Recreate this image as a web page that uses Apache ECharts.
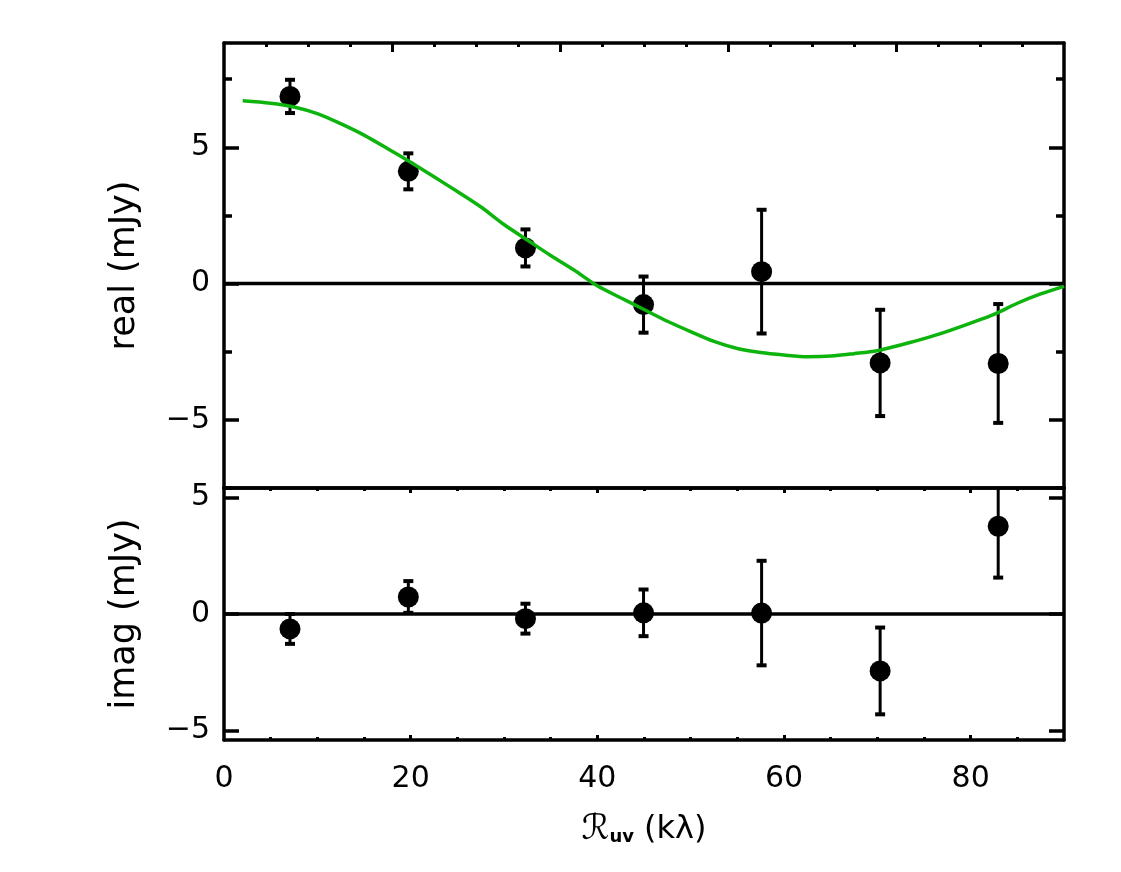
<!DOCTYPE html>
<html>
<head>
<meta charset="utf-8">
<script src="https://cdn.jsdelivr.net/npm/echarts@6/dist/echarts.min.js"></script>
<style>
html,body{margin:0;padding:0;background:#fff;}
#chart{width:1121px;height:872px;}
</style>
</head>
<body>
<div id="chart"></div>
<script>
// ---- data ----
const uvDist   = [7.07, 19.75, 32.3, 44.95, 57.6, 70.3, 82.95];
const realVal  = [6.87, 4.12, 1.31, -0.77, 0.44, -2.91, -2.93];
const realErr  = [0.61, 0.66, 0.68, 1.03, 2.27, 1.95, 2.18];
const imagVal  = [-0.64, 0.73, -0.20, 0.05, 0.04, -2.44, 3.76];
const imagErr  = [0.64, 0.68, 0.64, 1.00, 2.24, 1.86, 2.20];
const modelX    = [2, 5, 7.5, 10, 12.5, 15, 17.5, 20, 22.5, 25, 27.5, 30, 32.5, 35, 37.5, 40, 42.5, 45, 47.5, 50, 52.5, 55, 57.5, 60, 62.5, 65, 67.5, 70, 72.5, 75, 77.5, 80, 82.5, 85, 87.5, 90];
const modelReal = [6.71, 6.62, 6.48, 6.24, 5.87, 5.45, 4.96, 4.45, 3.92, 3.38, 2.82, 2.17, 1.60, 1.03, 0.50, -0.08, -0.52, -0.95, -1.38, -1.76, -2.12, -2.38, -2.53, -2.62, -2.68, -2.66, -2.57, -2.46, -2.25, -2.02, -1.75, -1.45, -1.13, -0.72, -0.38, -0.10];
const xTickLabels = [0, 20, 40, 60, 80];
const xMinorTicks = [5, 10, 15, 25, 30, 35, 45, 50, 55, 65, 70, 75, 85];
const topMajorTicks = [20, 40, 60, 80];
const topMinorTicks = [5, 10, 15, 25, 30, 35, 45, 50, 55, 65, 70, 75, 85, 90, 95];
const yTickLabels = [-5, 0, 5];
const realMinorTicks = [-7.5, -2.5, 2.5, 7.5];

const FONT = 'DejaVu Sans';
const BLACK = '#000';
const AXLINE = {show: true, onZero: false, lineStyle: {color: BLACK, width: 3.5}};
const NOLINE = {show: false, onZero: false};
const fmt = v => (v < 0 ? '\u2212' + Math.abs(v) : String(v));

function ticks(vals, len, w) {
  return {show: true, inside: true, length: len, customValues: vals, lineStyle: {color: BLACK, width: w}};
}
function base(extra) {
  return Object.assign({type: 'value', splitLine: {show: false}, axisLabel: {show: false}, axisTick: {show: false}}, extra);
}

const xAxes = [
  base({gridIndex: 0, position: 'bottom', min: 0, max: 90, axisLine: AXLINE}),
  base({gridIndex: 0, position: 'top', min: 0, max: 100, axisLine: AXLINE, axisTick: ticks(topMajorTicks, 9, 3)}),
  base({gridIndex: 0, position: 'top', min: 0, max: 100, axisLine: NOLINE, axisTick: ticks(topMinorTicks, 4, 3)}),
  base({gridIndex: 1, position: 'bottom', min: 0, max: 90, axisLine: AXLINE, axisTick: ticks(topMajorTicks, 5, 3),
        axisLabel: {show: true, customValues: xTickLabels, color: BLACK, fontFamily: FONT, fontSize: 30, margin: 24, formatter: fmt},
        name: '{a|\u211B}{b|uv}{c| (k\u03BB)}', nameLocation: 'middle', nameGap: 72,
        nameTextStyle: {color: BLACK, fontFamily: FONT, fontSize: 32,
          rich: {a: {fontFamily: FONT, fontSize: 35, fontStyle: 'italic', color: BLACK},
                 b: {fontFamily: FONT, fontSize: 18, fontWeight: 'bold', color: BLACK, padding: [16, 0, 0, 0]},
                 c: {fontFamily: FONT, fontSize: 32, color: BLACK}}}}),
  base({gridIndex: 1, position: 'bottom', min: 0, max: 90, axisLine: NOLINE, axisTick: ticks(xMinorTicks, 3, 3)}),
  base({gridIndex: 1, position: 'top', min: 0, max: 90, axisLine: AXLINE, axisTick: ticks(topMajorTicks, 5, 3)}),
  base({gridIndex: 1, position: 'top', min: 0, max: 90, axisLine: NOLINE, axisTick: ticks(xMinorTicks, 3, 3)})
];

const yAxes = [
  base({gridIndex: 0, position: 'left', min: -7.5, max: 8.83, axisLine: AXLINE, axisTick: ticks(yTickLabels, 15, 3.5),
        axisLabel: {show: true, customValues: yTickLabels, color: BLACK, fontFamily: FONT, fontSize: 30, margin: 14, formatter: fmt},
        name: 'real (mJy)', nameLocation: 'middle', nameRotate: 90, nameGap: 82,
        nameTextStyle: {color: BLACK, fontFamily: FONT, fontSize: 35}}),
  base({gridIndex: 0, position: 'left', min: -7.5, max: 8.83, axisLine: NOLINE, axisTick: ticks(realMinorTicks, 8, 3.5)}),
  base({gridIndex: 0, position: 'right', min: -7.5, max: 8.83, axisLine: AXLINE, axisTick: ticks(yTickLabels, 15, 3.5)}),
  base({gridIndex: 0, position: 'right', min: -7.5, max: 8.83, axisLine: NOLINE, axisTick: ticks(realMinorTicks, 8, 3.5)}),
  base({gridIndex: 1, position: 'left', min: -5.4, max: 5.4, axisLine: AXLINE, axisTick: ticks(yTickLabels, 15, 3.5),
        axisLabel: {show: true, customValues: yTickLabels, color: BLACK, fontFamily: FONT, fontSize: 30, margin: 14, formatter: fmt},
        name: 'imag (mJy)', nameLocation: 'middle', nameRotate: 90, nameGap: 82,
        nameTextStyle: {color: BLACK, fontFamily: FONT, fontSize: 35}}),
  base({gridIndex: 1, position: 'right', min: -5.4, max: 5.4, axisLine: AXLINE, axisTick: ticks(yTickLabels, 15, 3.5)})
];

function errRender(params, api) {
  const x = api.value(0), y = api.value(1), e = api.value(2);
  const top = api.coord([x, y + e]);
  const bot = api.coord([x, y - e]);
  const cs = params.coordSys;
  const yMin = cs.y, yMax = cs.y + cs.height;
  const cx = top[0];
  let t = top[1], b = bot[1];
  const clipT = t < yMin, clipB = b > yMax;
  t = Math.max(t, yMin); b = Math.min(b, yMax);
  const children = [{type: 'line', shape: {x1: cx, y1: t, x2: cx, y2: b}, style: {stroke: BLACK, lineWidth: 3}}];
  if (!clipT) children.push({type: 'line', shape: {x1: cx - 5, y1: t, x2: cx + 5, y2: t}, style: {stroke: BLACK, lineWidth: 4}});
  if (!clipB) children.push({type: 'line', shape: {x1: cx - 5, y1: b, x2: cx + 5, y2: b}, style: {stroke: BLACK, lineWidth: 4}});
  return {type: 'group', children};
}

const realErrData = uvDist.map((x, i) => [x, realVal[i], realErr[i]]);
const imagErrData = uvDist.map((x, i) => [x, imagVal[i], imagErr[i]]);
const realPts = uvDist.map((x, i) => [x, realVal[i]]);
const imagPts = uvDist.map((x, i) => [x, imagVal[i]]);
const modelPts = modelX.map((x, i) => [x, modelReal[i]]);

const option = {
  backgroundColor: '#fff',
  animation: false,
  grid: [
    {left: 224, top: 43, width: 840, height: 445},
    {left: 224, top: 488, width: 840, height: 252}
  ],
  xAxis: xAxes,
  yAxis: yAxes,
  series: [
    {type: 'line', xAxisIndex: 0, yAxisIndex: 0, data: [[0, 0], [90, 0]], symbol: 'none', lineStyle: {color: BLACK, width: 3.5}, z: 1},
    {type: 'line', xAxisIndex: 3, yAxisIndex: 4, data: [[0, 0], [90, 0]], symbol: 'none', lineStyle: {color: BLACK, width: 3.5}, z: 1},
    {type: 'custom', xAxisIndex: 0, yAxisIndex: 0, renderItem: errRender, data: realErrData, encode: {x: 0, y: 1}, z: 2},
    {type: 'custom', xAxisIndex: 3, yAxisIndex: 4, renderItem: errRender, data: imagErrData, encode: {x: 0, y: 1}, z: 2},
    {type: 'scatter', xAxisIndex: 0, yAxisIndex: 0, data: realPts, symbol: 'circle', symbolSize: 21, itemStyle: {color: BLACK, opacity: 1}, z: 3},
    {type: 'scatter', xAxisIndex: 3, yAxisIndex: 4, data: imagPts, symbol: 'circle', symbolSize: 21, itemStyle: {color: BLACK, opacity: 1}, z: 3},
    {type: 'line', xAxisIndex: 0, yAxisIndex: 0, data: modelPts, symbol: 'none', smooth: 0.3, lineStyle: {color: '#0db40d', width: 3.5}, z: 4}
  ]
};

const chart = echarts.init(document.getElementById('chart'), null, {renderer: 'canvas'});
chart.setOption(option);
</script>
</body>
</html>
